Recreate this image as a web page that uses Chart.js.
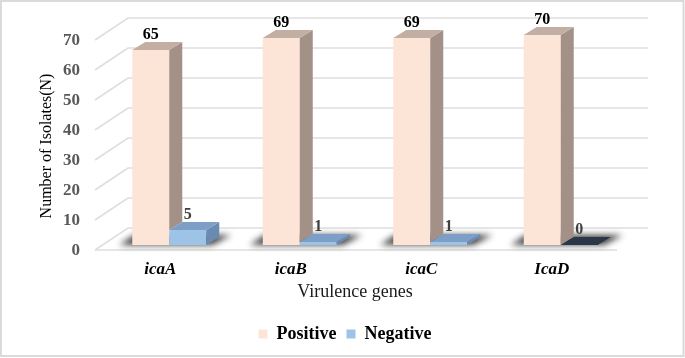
<!DOCTYPE html>
<html>
<head>
<meta charset="utf-8">
<script src="https://cdn.jsdelivr.net/npm/chart.js@4.4.1/dist/chart.umd.min.js"></script>
<style>
  html, body { margin: 0; padding: 0; background: #fff; }
  #wrap { width: 685px; height: 358px; }
</style>
</head>
<body>
<div id="wrap"><canvas id="chart" width="685" height="358"></canvas></div>
<script>
const categories = ["icaA", "icaB", "icaC", "IcaD"];
const positiveCounts = [65, 69, 69, 70];
const negativeCounts = [5, 1, 1, 0];
const yMax = 70;
const yStep = 10;

const SERIF = "'Liberation Serif', 'Times New Roman', serif";
const DX = 13, DY = 8;       // depth of a bar
const WALL_X = 33, WALL_Y = 22; // depth of the floor / back wall

const faces = [
  { side: "#a39087", top: "#c3aea3" },
  { side: "#6a8ab0", top: "#7d9fc7", flat: "#2b3747" },
];

function poly(ctx, pts) {
  ctx.beginPath();
  ctx.moveTo(pts[0][0], pts[0][1]);
  for (let i = 1; i < pts.length; i++) ctx.lineTo(pts[i][0], pts[i][1]);
  ctx.closePath();
  ctx.fill();
}

// fake excel 3d look: back wall, floor, shadows, side + top faces
const threeD = {
  id: "threeD",
  beforeDraw(chart) {
    const ctx = chart.ctx;
    ctx.save();
    ctx.fillStyle = "#fff";
    ctx.fillRect(0, 0, chart.width, chart.height);
    ctx.strokeStyle = "#dadada";
    ctx.lineWidth = 2;
    ctx.strokeRect(1, 1, chart.width - 2.5, chart.height - 3);
    ctx.restore();
  },
  afterLayout(chart) {
    // nudge titles and legend to where excel put them
    chart.scales.x.right -= 20;
    chart.scales.y.top += 12;
    chart.legend.left += 32;
    chart.legend.right += 32;
  },
  beforeDatasetsDraw(chart) {
    const { ctx, chartArea: a, scales: { y } } = chart;
    const fx0 = a.left - 9, fx1 = a.right - 9;
    const bx0 = fx0 + WALL_X, bx1 = a.right + 22;
    ctx.save();
    ctx.strokeStyle = "#dedede";
    ctx.lineWidth = 1.6;
    for (let v = 0; v <= yMax; v += yStep) {
      const yf = y.getPixelForValue(v) + 5;
      const yb = yf - WALL_Y;
      ctx.beginPath();
      ctx.moveTo(fx0, yf);
      ctx.lineTo(bx0, yb);
      ctx.lineTo(bx1, yb);
      ctx.stroke();
    }
    const y0 = y.getPixelForValue(0) + 5;
    ctx.beginPath();
    ctx.moveTo(fx0, y0);
    ctx.lineTo(fx1, y0);
    ctx.stroke();

    // soft shadows on the floor
    const pos = chart.getDatasetMeta(0).data;
    const neg = chart.getDatasetMeta(1).data;
    ctx.filter = "blur(3px)";
    ctx.fillStyle = "rgba(0,0,0,0.75)";
    pos.forEach((p, i) => {
      const n = neg[i];
      const L = p.x - p.width / 2, R = n.x + n.width / 2, base = p.base;
      poly(ctx, [[L - 13, base], [R + 6, base], [R + 6 + DX + 6, base - DY - 2], [L - 13 + DX + 2, base - DY - 2]]);
    });
    ctx.restore();
  },
  afterDatasetsDraw(chart) {
    const ctx = chart.ctx;
    const pos = chart.getDatasetMeta(0).data;
    const neg = chart.getDatasetMeta(1).data;
    ctx.save();
    pos.forEach((p, i) => {
      const n = neg[i];
      // positive bar: side face stops where the negative bar starts
      let L = p.x - p.width / 2, R = p.x + p.width / 2;
      ctx.fillStyle = faces[0].side;
      poly(ctx, [[R, p.y], [R + DX, p.y - DY], [R + DX, n.y - DY], [R, n.y]]);
      ctx.fillStyle = faces[0].top;
      poly(ctx, [[L, p.y], [L + DX, p.y - DY], [R + DX, p.y - DY], [R, p.y]]);
      // negative bar
      L = n.x - n.width / 2; R = n.x + n.width / 2;
      ctx.fillStyle = faces[1].side;
      poly(ctx, [[R, n.y], [R + DX, n.y - DY], [R + DX, n.base - DY], [R, n.base]]);
      ctx.fillStyle = negativeCounts[i] === 0 ? faces[1].flat : faces[1].top;
      poly(ctx, [[L, n.y], [L + DX, n.y - DY], [R + DX, n.y - DY], [R, n.y]]);
    });

    ctx.font = "bold 16px " + SERIF;
    ctx.textAlign = "center";
    ctx.textBaseline = "alphabetic";
    chart.data.datasets.forEach((ds, di) => {
      ctx.fillStyle = di === 0 ? "#000" : "#404040";
      chart.getDatasetMeta(di).data.forEach((el, i) => {
        ctx.fillText(String(ds.data[i]), el.x, el.y - 11);
      });
    });
    ctx.restore();
  },
};

new Chart(document.getElementById("chart"), {
  type: "bar",
  data: {
    labels: categories,
    datasets: [
      { label: "Positive", data: positiveCounts, backgroundColor: "#fce4d6" },
      { label: "Negative", data: negativeCounts, backgroundColor: "#9dc3e6" },
    ],
  },
  options: {
    responsive: false,
    animation: false,
    datasets: {
      bar: { categoryPercentage: 0.567, barPercentage: 1, borderWidth: 0, clip: false },
    },
    layout: { padding: { top: 35, right: 59, bottom: 5, left: 0 } },
    scales: {
      x: {
        grid: { display: false, drawTicks: false },
        border: { display: false },
        ticks: {
          padding: 14,
          labelOffset: -9,
          color: "#000",
          font: { family: SERIF, size: 17, weight: "bold", style: "italic" },
        },
        title: {
          display: true,
          text: "Virulence genes",
          color: "#1a1a1a",
          font: { family: SERIF, size: 18 },
          padding: { top: 0, bottom: 12 },
        },
        afterFit: (s) => { s.height = 70; },
      },
      y: {
        min: 0,
        max: yMax,
        grid: { display: false, drawTicks: false },
        border: { display: false },
        ticks: {
          stepSize: yStep,
          padding: 24,
          labelOffset: 6,
          color: "#595959",
          font: { family: SERIF, size: 17, weight: "bold" },
        },
        title: {
          display: true,
          text: "Number of Isolates(N)",
          color: "#000",
          font: { family: SERIF, size: 16 },
          padding: { top: 37, bottom: 0 },
        },
        afterFit: (s) => { s.width = 104; },
      },
    },
    plugins: {
      legend: {
        position: "bottom",
        labels: {
          boxWidth: 9,
          boxHeight: 9,
          padding: 10,
          color: "#000",
          font: { family: SERIF, size: 18, weight: "bold" },
        },
      },
      tooltip: { enabled: false },
    },
  },
  plugins: [threeD],
});
</script>
</body>
</html>
